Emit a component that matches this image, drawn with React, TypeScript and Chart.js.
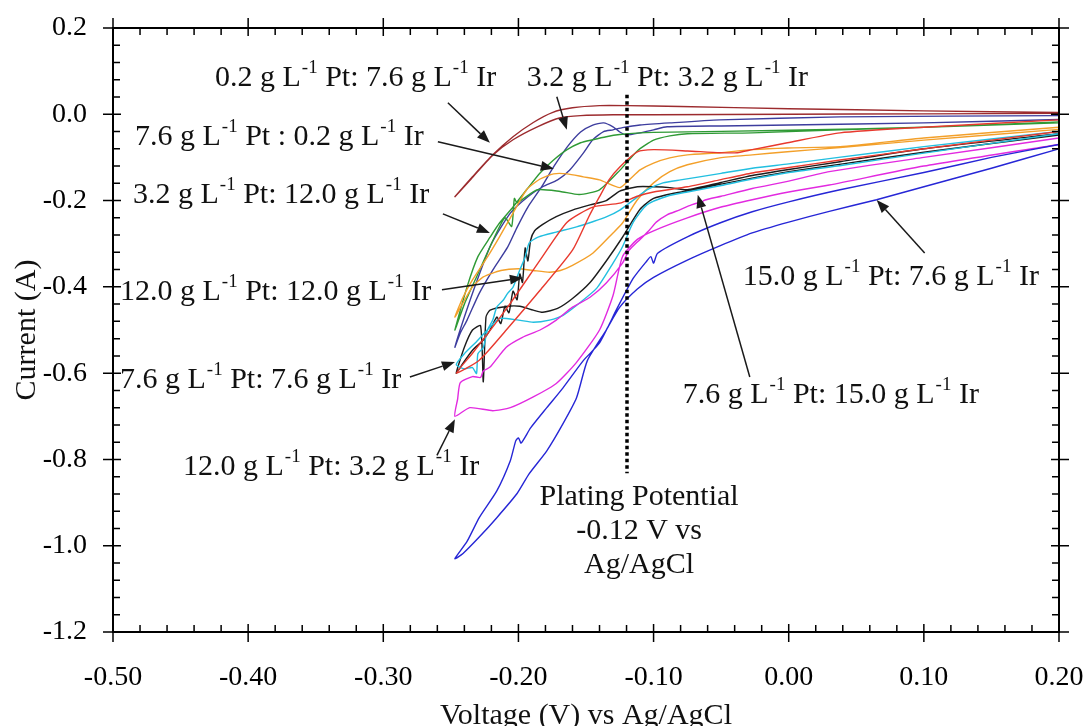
import React, { useEffect, useRef } from "react";
import { Chart, registerables } from "chart.js";

Chart.register(...registerables);

const FONT = "'Liberation Serif', 'Times New Roman', serif";

// Axis ticks
const xTickValues = [-0.5, -0.4, -0.3, -0.2, -0.1, 0.0, 0.1, 0.2];
const yTickValues = [-1.2, -1.0, -0.8, -0.6, -0.4, -0.2, 0.0, 0.2];

// 0.2 g/L Pt : 7.6 g/L Ir (brown)
const brownV = [0.2, 0.1, 0.0, -0.08, -0.12, -0.14, -0.16, -0.175, -0.189, -0.204, -0.219, -0.234, -0.247, -0.235, -0.219, -0.204, -0.186, -0.169, -0.154, -0.13, -0.1, 0.0, 0.1, 0.2];
const brownI = [0.004, 0.008, 0.013, 0.018, 0.02, 0.02, 0.015, 0.004, -0.019, -0.052, -0.094, -0.145, -0.191, -0.15, -0.095, -0.059, -0.029, -0.008, -0.003, -0.001, -0.001, 0.0, 0.001, 0.002];

// 3.2 g/L Pt : 3.2 g/L Ir (slate blue)
const slateV = [0.2, 0.1, 0.0, -0.05, -0.09, -0.1, -0.11, -0.12, -0.125, -0.13, -0.137, -0.145, -0.154, -0.164, -0.174, -0.183, -0.193, -0.201, -0.208, -0.219, -0.229, -0.238, -0.243, -0.247, -0.24, -0.23, -0.22, -0.206, -0.193, -0.182, -0.171, -0.162, -0.152, -0.145, -0.137, -0.13, -0.123, -0.11, -0.088, -0.051, 0.038, 0.2];
const slateI = [-0.012, -0.02, -0.025, -0.027, -0.029, -0.036, -0.043, -0.048, -0.041, -0.029, -0.02, -0.025, -0.041, -0.076, -0.122, -0.169, -0.215, -0.262, -0.308, -0.361, -0.415, -0.477, -0.507, -0.54, -0.47, -0.38, -0.3, -0.229, -0.191, -0.168, -0.152, -0.129, -0.09, -0.059, -0.04, -0.036, -0.031, -0.025, -0.02, -0.013, -0.006, -0.003];

// 3.2 g/L Pt : 12.0 g/L Ir (green)
const greenV = [0.2, 0.1, 0.0, -0.1, -0.11, -0.125, -0.135, -0.145, -0.154, -0.164, -0.174, -0.184, -0.194, -0.204, -0.214, -0.221, -0.23, -0.238, -0.247, -0.24, -0.23, -0.22, -0.21, -0.205, -0.203, -0.201, -0.186, -0.169, -0.155, -0.14, -0.125, -0.112, -0.1, -0.088, -0.075, -0.027, 0.038, 0.1, 0.2];
const greenI = [-0.018, -0.03, -0.037, -0.042, -0.043, -0.047, -0.052, -0.059, -0.066, -0.082, -0.106, -0.136, -0.175, -0.215, -0.252, -0.285, -0.33, -0.4, -0.5, -0.44, -0.37, -0.3, -0.24, -0.26, -0.195, -0.205, -0.175, -0.179, -0.186, -0.175, -0.13, -0.085, -0.06, -0.05, -0.045, -0.043, -0.036, -0.03, -0.02];

// 7.6 g/L Pt : 0.2 g/L Ir (orange)
const orangeV = [0.2, 0.1, 0.038, -0.001, -0.027, -0.051, -0.075, -0.088, -0.1, -0.11, -0.118, -0.125, -0.14, -0.152, -0.164, -0.174, -0.184, -0.194, -0.204, -0.214, -0.223, -0.234, -0.241, -0.247, -0.241, -0.234, -0.226, -0.213, -0.2, -0.189, -0.177, -0.169, -0.16, -0.145, -0.13, -0.123, -0.112, -0.1, -0.088, -0.075, -0.051, -0.027, -0.001, 0.038, 0.1, 0.2];
const orangeI = [-0.03, -0.055, -0.075, -0.078, -0.082, -0.089, -0.094, -0.101, -0.113, -0.129, -0.152, -0.17, -0.152, -0.145, -0.138, -0.138, -0.15, -0.175, -0.229, -0.284, -0.331, -0.384, -0.424, -0.47, -0.437, -0.4, -0.377, -0.362, -0.358, -0.362, -0.366, -0.362, -0.35, -0.322, -0.275, -0.252, -0.198, -0.159, -0.133, -0.117, -0.101, -0.094, -0.087, -0.077, -0.06, -0.035];

// red
const redV = [0.2, 0.1, 0.038, -0.001, -0.027, -0.038, -0.051, -0.075, -0.1, -0.112, -0.125, -0.133, -0.14, -0.148, -0.16, -0.184, -0.209, -0.229, -0.246, -0.234, -0.208, -0.184, -0.164, -0.145, -0.125, -0.112, -0.1, -0.075, -0.051, -0.027, -0.001, 0.038, 0.1, 0.2];
const redI = [-0.013, -0.03, -0.043, -0.066, -0.082, -0.089, -0.089, -0.085, -0.082, -0.087, -0.122, -0.152, -0.191, -0.238, -0.315, -0.408, -0.5, -0.57, -0.6, -0.554, -0.447, -0.338, -0.25, -0.215, -0.206, -0.19, -0.18, -0.168, -0.152, -0.136, -0.124, -0.106, -0.08, -0.04];

// 7.6 g/L Pt : 7.6 g/L Ir (cyan)
const cyanV = [0.2, 0.1, 0.037, 0.0, -0.027, -0.05, -0.066, -0.08, -0.093, -0.105, -0.115, -0.125, -0.135, -0.145, -0.157, -0.172, -0.185, -0.192, -0.195, -0.199, -0.204, -0.208, -0.211, -0.216, -0.219, -0.223, -0.226, -0.23, -0.231, -0.234, -0.24, -0.246, -0.24, -0.232, -0.226, -0.22, -0.214, -0.2, -0.189, -0.177, -0.167, -0.155, -0.142, -0.13, -0.123, -0.115, -0.105, -0.09, -0.075, -0.05, -0.027, 0.0, 0.04, 0.1, 0.2];
const cyanI = [-0.04, -0.075, -0.1, -0.115, -0.125, -0.137, -0.145, -0.152, -0.159, -0.175, -0.199, -0.222, -0.238, -0.249, -0.261, -0.273, -0.284, -0.298, -0.331, -0.361, -0.401, -0.415, -0.43, -0.447, -0.477, -0.501, -0.541, -0.555, -0.601, -0.587, -0.59, -0.58, -0.555, -0.53, -0.51, -0.49, -0.473, -0.477, -0.482, -0.477, -0.466, -0.438, -0.403, -0.345, -0.307, -0.25, -0.21, -0.19, -0.18, -0.165, -0.15, -0.135, -0.118, -0.09, -0.045];

// 7.6 g/L Pt : 15.0 g/L Ir (black)
const blackV = [0.2, 0.1, 0.038, 0.0, -0.027, -0.05, -0.075, -0.088, -0.1, -0.112, -0.125, -0.135, -0.147, -0.16, -0.172, -0.182, -0.188, -0.191, -0.193, -0.195, -0.197, -0.199, -0.201, -0.204, -0.207, -0.21, -0.213, -0.216, -0.221, -0.226, -0.234, -0.241, -0.246, -0.24, -0.234, -0.228, -0.226, -0.224, -0.221, -0.208, -0.199, -0.189, -0.182, -0.171, -0.16, -0.147, -0.135, -0.123, -0.11, -0.1, -0.085, -0.07, -0.05, -0.027, 0.0, 0.04, 0.1, 0.2];
const blackI = [-0.045, -0.08, -0.11, -0.128, -0.142, -0.158, -0.175, -0.17, -0.168, -0.168, -0.178, -0.2, -0.21, -0.222, -0.237, -0.255, -0.27, -0.292, -0.34, -0.31, -0.39, -0.37, -0.43, -0.41, -0.46, -0.445, -0.485, -0.47, -0.5, -0.523, -0.547, -0.577, -0.6, -0.54, -0.5, -0.49, -0.62, -0.47, -0.454, -0.445, -0.445, -0.454, -0.459, -0.45, -0.427, -0.39, -0.34, -0.285, -0.22, -0.195, -0.183, -0.175, -0.162, -0.148, -0.133, -0.115, -0.088, -0.048];

// 12.0 g/L Pt : 3.2 g/L Ir (magenta)
const magentaV = [0.2, 0.1, 0.03, 0.0, -0.027, -0.05, -0.075, -0.1, -0.112, -0.123, -0.13, -0.14, -0.157, -0.172, -0.189, -0.206, -0.219, -0.236, -0.247, -0.245, -0.243, -0.234, -0.228, -0.226, -0.221, -0.209, -0.197, -0.184, -0.172, -0.16, -0.147, -0.135, -0.123, -0.118, -0.11, -0.103, -0.098, -0.09, -0.081, -0.072, -0.066, -0.065, -0.063, -0.05, -0.027, 0.0, 0.03, 0.1, 0.2];
const magentaI = [-0.07, -0.12, -0.164, -0.18, -0.198, -0.215, -0.24, -0.27, -0.29, -0.33, -0.42, -0.5, -0.575, -0.624, -0.655, -0.68, -0.687, -0.68, -0.7, -0.66, -0.622, -0.608, -0.61, -0.595, -0.586, -0.54, -0.517, -0.5, -0.477, -0.447, -0.424, -0.391, -0.345, -0.315, -0.29, -0.268, -0.25, -0.233, -0.222, -0.21, -0.205, -0.212, -0.2, -0.19, -0.172, -0.155, -0.133, -0.1, -0.055];

// 15.0 g/L Pt : 7.6 g/L Ir (blue)
const blueV = [0.2, 0.15, 0.1, 0.065, 0.03, 0.0, -0.027, -0.051, -0.075, -0.1, -0.112, -0.125, -0.135, -0.149, -0.157, -0.167, -0.179, -0.192, -0.201, -0.216, -0.229, -0.241, -0.247, -0.238, -0.229, -0.216, -0.206, -0.202, -0.2, -0.198, -0.191, -0.179, -0.167, -0.152, -0.14, -0.127, -0.115, -0.105, -0.102, -0.1, -0.097, -0.075, -0.051, -0.027, 0.0, 0.038, 0.1, 0.15, 0.2];
const blueI = [-0.08, -0.125, -0.168, -0.198, -0.225, -0.25, -0.275, -0.305, -0.338, -0.378, -0.405, -0.447, -0.5, -0.571, -0.657, -0.717, -0.78, -0.833, -0.879, -0.935, -0.98, -1.018, -1.03, -0.99, -0.935, -0.873, -0.803, -0.757, -0.75, -0.762, -0.727, -0.68, -0.634, -0.571, -0.53, -0.45, -0.38, -0.34, -0.33, -0.345, -0.322, -0.284, -0.252, -0.226, -0.203, -0.175, -0.135, -0.1, -0.07];

const seriesList = [
  { v: blueV, i: blueI, color: "#2626d6" },
  { v: magentaV, i: magentaI, color: "#e22ae0" },
  { v: redV, i: redI, color: "#e8392e" },
  { v: cyanV, i: cyanI, color: "#22bfe0" },
  { v: blackV, i: blackI, color: "#1c1c1c" },
  { v: orangeV, i: orangeI, color: "#f3a02a" },
  { v: greenV, i: greenI, color: "#2f9a35" },
  { v: slateV, i: slateI, color: "#3d3d9e" },
  { v: brownV, i: brownI, color: "#9c2b2e" },
];

// Annotation labels: text, left edge V, centre I
const labelTexts = [
  "0.2 g L^-1 Pt: 7.6 g L^-1 Ir",
  "3.2 g L^-1 Pt: 3.2 g L^-1 Ir",
  "7.6 g L^-1 Pt : 0.2 g L^-1 Ir",
  "3.2 g L^-1 Pt: 12.0 g L^-1 Ir",
  "12.0 g L^-1 Pt: 12.0 g L^-1 Ir",
  "7.6 g L^-1 Pt: 7.6 g L^-1 Ir",
  "12.0 g L^-1 Pt: 3.2 g L^-1 Ir",
  "15.0 g L^-1 Pt: 7.6 g L^-1 Ir",
  "7.6 g L^-1 Pt: 15.0 g L^-1 Ir",
];
const labelV = [-0.4245, -0.1938, -0.4837, -0.4852, -0.4948, -0.4948, -0.4482, -0.034, -0.0784];
const labelI = [0.0847, 0.0847, -0.0522, -0.1868, -0.4118, -0.616, -0.8178, -0.377, -0.6508];

// Arrows: from (V,I) to (V,I)
const arrowFromV = [-0.2522, -0.1716, -0.2596, -0.2559, -0.2566, -0.2803, -0.2603, 0.1006, -0.0288];
const arrowFromI = [0.0267, 0.0406, -0.0638, -0.2308, -0.4068, -0.609, -0.7906, -0.3214, -0.609];
const arrowToV = [-0.2211, -0.1642, -0.1738, -0.2211, -0.1967, -0.247, -0.247, 0.0651, -0.0673];
const arrowToI = [-0.0661, -0.036, -0.1265, -0.2749, -0.3789, -0.5742, -0.7071, -0.1984, -0.1867];

// Plating potential marker
const platingV = -0.12;
const platingTopI = 0.045;
const platingBottomI = -0.832;
const platingLines = ["Plating Potential", "-0.12 V vs", "Ag/AgCl"];
const platingTextV = -0.1107;
const platingTextI = [-0.8874, -0.9663, -1.0452];

function drawRich(ctx: CanvasRenderingContext2D, text: string, x: number, y: number) {
  const parts = text.split("^-1");
  let cx = x;
  ctx.textAlign = "left";
  ctx.textBaseline = "middle";
  parts.forEach((p, idx) => {
    ctx.font = `30px ${FONT}`;
    ctx.fillText(p, cx, y);
    cx += ctx.measureText(p).width;
    if (idx < parts.length - 1) {
      ctx.font = `19px ${FONT}`;
      ctx.fillText("-1", cx + 1, y - 10);
      cx += ctx.measureText("-1").width + 1;
    }
  });
}

const decorPlugin = {
  id: "decor",
  afterDatasetsDraw(chart: any) {
    const { ctx, chartArea, scales } = chart;
    const xs = scales.x;
    const ys = scales.y;
    const { left, right, top, bottom } = chartArea;
    ctx.save();

    // dotted plating line
    ctx.strokeStyle = "#000";
    ctx.lineWidth = 3.5;
    ctx.setLineDash([3.5, 3]);
    ctx.beginPath();
    const pxp = Math.round(xs.getPixelForValue(platingV));
    ctx.moveTo(pxp, ys.getPixelForValue(platingTopI));
    ctx.lineTo(pxp, ys.getPixelForValue(platingBottomI));
    ctx.stroke();
    ctx.setLineDash([]);

    // frame
    ctx.lineWidth = 2;
    ctx.strokeStyle = "#000";
    ctx.beginPath();
    ctx.moveTo(left, top);
    ctx.lineTo(right, top);
    ctx.lineTo(right, bottom);
    ctx.lineTo(left, bottom);
    ctx.closePath();
    ctx.stroke();

    // ticks
    ctx.lineWidth = 1.5;
    ctx.beginPath();
    for (let k = 0; k <= 35; k++) {
      const v = -0.5 + k * 0.02;
      const px = xs.getPixelForValue(v);
      const major = k % 5 === 0;
      const inLen = major ? 8 : 7;
      const outLen = major ? 10 : 0;
      ctx.moveTo(px, bottom + outLen);
      ctx.lineTo(px, bottom - inLen);
      ctx.moveTo(px, top - outLen);
      ctx.lineTo(px, top + inLen);
    }
    for (let k = 0; k <= 35; k++) {
      const a = -1.2 + k * 0.04;
      const py = ys.getPixelForValue(a);
      const major = k % 5 === 0;
      const inLen = major ? 8 : 7;
      const outLen = major ? 10 : 0;
      ctx.moveTo(left - outLen, py);
      ctx.lineTo(left + inLen, py);
      ctx.moveTo(right + outLen, py);
      ctx.lineTo(right - inLen, py);
    }
    ctx.stroke();

    // arrows
    ctx.strokeStyle = "#1a1a1a";
    ctx.fillStyle = "#1a1a1a";
    ctx.lineWidth = 1.5;
    for (let k = 0; k < arrowFromV.length; k++) {
      const x1 = xs.getPixelForValue(arrowFromV[k]);
      const y1 = ys.getPixelForValue(arrowFromI[k]);
      const x2 = xs.getPixelForValue(arrowToV[k]);
      const y2 = ys.getPixelForValue(arrowToI[k]);
      const ang = Math.atan2(y2 - y1, x2 - x1);
      const hl = 13;
      const hw = 5;
      const bx = x2 - hl * Math.cos(ang);
      const by = y2 - hl * Math.sin(ang);
      ctx.beginPath();
      ctx.moveTo(x1, y1);
      ctx.lineTo(bx, by);
      ctx.stroke();
      ctx.beginPath();
      ctx.moveTo(x2, y2);
      ctx.lineTo(bx + hw * Math.sin(ang), by - hw * Math.cos(ang));
      ctx.lineTo(bx - hw * Math.sin(ang), by + hw * Math.cos(ang));
      ctx.closePath();
      ctx.fill();
    }

    // labels
    ctx.fillStyle = "#111";
    for (let k = 0; k < labelTexts.length; k++) {
      drawRich(ctx, labelTexts[k], xs.getPixelForValue(labelV[k]), ys.getPixelForValue(labelI[k]));
    }
    ctx.font = `30px ${FONT}`;
    ctx.textAlign = "center";
    ctx.textBaseline = "middle";
    platingLines.forEach((t, k) => {
      ctx.fillText(t, xs.getPixelForValue(platingTextV), ys.getPixelForValue(platingTextI[k]));
    });

    // axis titles
    ctx.fillText("Voltage (V) vs Ag/AgCl", (left + right) / 2, bottom + 84);
    ctx.save();
    ctx.translate(left - 86, (top + bottom) / 2);
    ctx.rotate(-Math.PI / 2);
    ctx.fillText("Current (A)", 0, 0);
    ctx.restore();

    ctx.restore();
  },
};

export default function App() {
  const canvasRef = useRef<HTMLCanvasElement | null>(null);

  useEffect(() => {
    const canvas = canvasRef.current;
    if (!canvas) return;
    const datasets = seriesList.map((s) => ({
      data: s.v.map((v, k) => ({ x: v, y: s.i[k] })),
      borderColor: s.color,
      backgroundColor: s.color,
      borderWidth: 1.4,
      pointRadius: 0,
      showLine: true,
      tension: 0.2,
      fill: false,
    }));
    const chart = new Chart(canvas, {
      type: "scatter",
      data: { datasets },
      plugins: [decorPlugin],
      options: {
        animation: false,
        responsive: false,
        devicePixelRatio: 1,
        layout: { padding: { top: 28, right: 31, left: 0, bottom: 0 } },
        plugins: { legend: { display: false }, tooltip: { enabled: false } },
        scales: {
          x: {
            type: "linear",
            min: -0.5,
            max: 0.2,
            afterBuildTicks: (s: any) => {
              s.ticks = xTickValues.map((v) => ({ value: v }));
            },
            afterFit: (s: any) => {
              s.height = 94;
              s.paddingLeft = 0;
              s.paddingRight = 0;
              s.paddingTop = 0;
              s.paddingBottom = 0;
            },
            grid: { display: false, drawTicks: false },
            border: { display: false },
            ticks: {
              autoSkip: false,
              maxRotation: 0,
              padding: 29,
              color: "#000",
              font: { family: FONT, size: 28 },
              callback: (v: any) => Number(v).toFixed(2),
            },
          },
          y: {
            type: "linear",
            min: -1.2,
            max: 0.2,
            afterBuildTicks: (s: any) => {
              s.ticks = yTickValues.map((v) => ({ value: v }));
            },
            afterFit: (s: any) => {
              s.width = 113;
              s.paddingLeft = 0;
              s.paddingRight = 0;
              s.paddingTop = 0;
              s.paddingBottom = 0;
            },
            grid: { display: false, drawTicks: false },
            border: { display: false },
            ticks: {
              autoSkip: false,
              padding: 26,
              color: "#000",
              font: { family: FONT, size: 28 },
              callback: (v: any) => Number(v).toFixed(1),
            },
          },
        },
      },
    } as any);
    return () => chart.destroy();
  }, []);

  return (
    <div style={{ position: "fixed", left: 0, top: 0, width: 1090, height: 726, background: "#fff" }}>
      <canvas ref={canvasRef} width={1090} height={726} style={{ display: "block" }} />
    </div>
  );
}
